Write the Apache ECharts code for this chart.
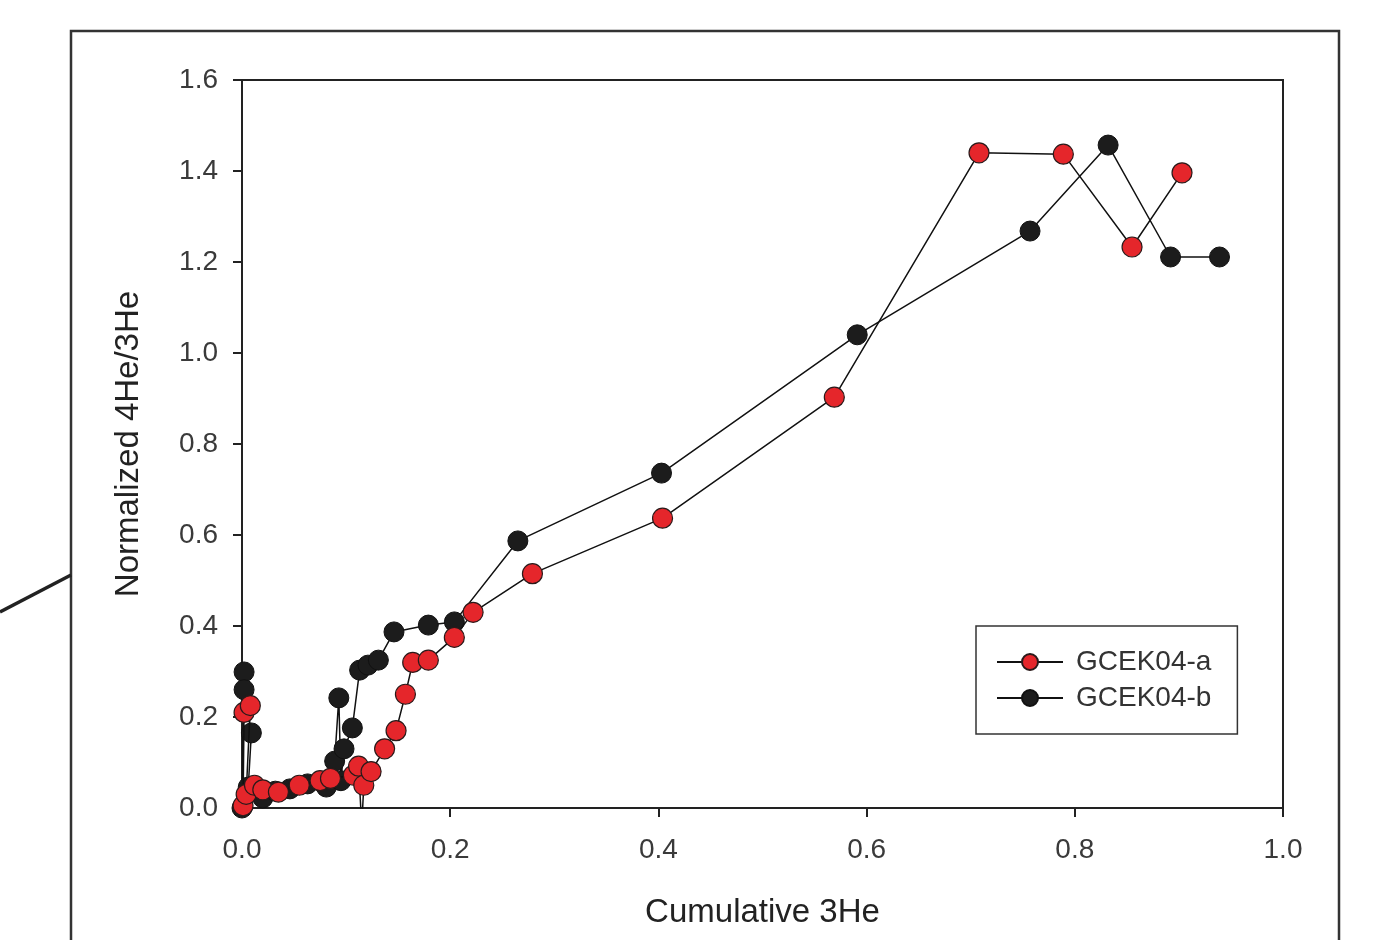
<!DOCTYPE html>
<html><head><meta charset="utf-8">
<script src="https://cdn.jsdelivr.net/npm/echarts@6/dist/echarts.min.js"></script>
<style>html,body{margin:0;padding:0;background:#fff}#c{width:1385px;height:940px}</style>
</head><body><div id="c"></div>
<script>
// GCEK04-a (red)
const aX = [0.001, 0.002, 0.008, 0.004, 0.012, 0.020, 0.035, 0.055, 0.075, 0.085, 0.107, 0.112, 0.115, 0.117, 0.124, 0.137, 0.148, 0.157, 0.164, 0.179, 0.204, 0.222, 0.279, 0.404, 0.569, 0.708, 0.789, 0.855, 0.903];
const aY = [0.005, 0.210, 0.225, 0.030, 0.050, 0.040, 0.035, 0.050, 0.060, 0.065, 0.072, 0.092, -0.040, 0.050, 0.080, 0.130, 0.170, 0.250, 0.320, 0.325, 0.375, 0.430, 0.515, 0.637, 0.903, 1.440, 1.437, 1.233, 1.396];
// GCEK04-b (black)
const bX = [0.000, 0.002, 0.002, 0.009, 0.006, 0.020, 0.032, 0.046, 0.063, 0.081, 0.089, 0.093, 0.095, 0.098, 0.106, 0.113, 0.121, 0.131, 0.146, 0.179, 0.204, 0.265, 0.403, 0.591, 0.757, 0.832, 0.892, 0.939];
const bY = [0.000, 0.299, 0.260, 0.165, 0.046, 0.022, 0.037, 0.042, 0.053, 0.046, 0.103, 0.242, 0.060, 0.130, 0.176, 0.303, 0.314, 0.325, 0.387, 0.402, 0.409, 0.587, 0.736, 1.040, 1.268, 1.457, 1.211, 1.211];
const seriesNames = ['GCEK04-a', 'GCEK04-b'];
const xTicks = ['0.0', '0.2', '0.4', '0.6', '0.8', '1.0'];
const yTicks = ['0.0', '0.2', '0.4', '0.6', '0.8', '1.0', '1.2', '1.4', '1.6'];

const zip = (xs, ys) => xs.map((x, i) => [x, ys[i]]);
const chart = echarts.init(document.getElementById('c'), null, {renderer: 'canvas'});
const FONT = 'Liberation Sans, Arial, sans-serif';
const axisCommon = {
  axisLine: {show: true, lineStyle: {color: '#222', width: 2}},
  axisTick: {show: true, inside: false, length: 9, lineStyle: {color: '#222', width: 2}},
  splitLine: {show: false},
  axisLabel: {color: '#3a3a3a', fontSize: 28, fontFamily: FONT},
  nameTextStyle: {color: '#222', fontSize: 33, fontFamily: FONT}
};
chart.setOption({
  animation: false,
  backgroundColor: '#fff',
  grid: {left: 242, right: 102, top: 80, bottom: 132, show: true, borderColor: '#222', borderWidth: 2, backgroundColor: 'transparent'},
  xAxis: Object.assign({}, axisCommon, {
    type: 'value', min: 0, max: 1, interval: 0.2,
    name: 'Cumulative 3He', nameLocation: 'middle', nameGap: 88,
    axisLabel: Object.assign({}, axisCommon.axisLabel, {margin: 28, formatter: v => xTicks[Math.round(v / 0.2)]})
  }),
  yAxis: Object.assign({}, axisCommon, {
    type: 'value', min: 0, max: 1.6, interval: 0.2,
    name: 'Normalized 4He/3He', nameLocation: 'middle', nameGap: 97,
    axisLabel: Object.assign({}, axisCommon.axisLabel, {margin: 24, formatter: v => yTicks[Math.round(v / 0.2)]})
  }),
  legend: {
    orient: 'vertical', left: 976, top: 626,
    padding: [22, 26, 22, 20], itemGap: 8,
    itemWidth: 66, itemHeight: 20,
    borderColor: '#333', borderWidth: 1.5,
    textStyle: {color: '#333', fontSize: 28, fontFamily: FONT, padding: [0, 0, 0, 8]},
    data: seriesNames
  },
  series: [
    {
      name: seriesNames[0], type: 'line', data: zip(aX, aY), clip: true,
      symbol: 'circle', symbolSize: 20, z: 3,
      lineStyle: {color: '#111', width: 1.5},
      itemStyle: {color: '#e5262b', borderColor: '#2a1a1a', borderWidth: 1.2}
    },
    {
      name: seriesNames[1], type: 'line', data: zip(bX, bY), clip: true,
      symbol: 'circle', symbolSize: 20, z: 2,
      lineStyle: {color: '#111', width: 1.5},
      itemStyle: {color: '#1c1c1c', borderColor: '#111', borderWidth: 1}
    }
  ],
  graphic: [
    {type: 'polyline', shape: {points: [[71, 960], [71, 31], [1339, 31], [1339, 960]]}, style: {stroke: '#333', lineWidth: 2.5, fill: null}, silent: true},
    {type: 'line', shape: {x1: 0, y1: 612, x2: 71, y2: 575}, style: {stroke: '#222', lineWidth: 3.5}, silent: true}
  ]
});
</script></body></html>
